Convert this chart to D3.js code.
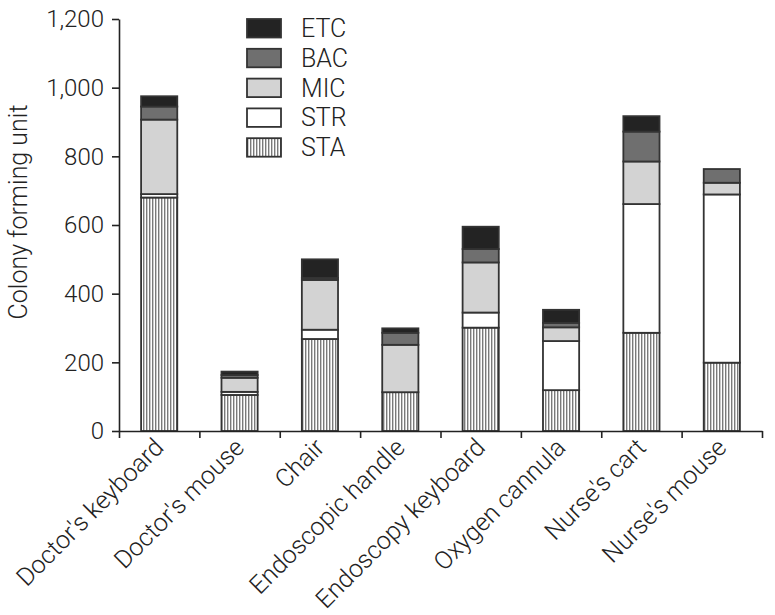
<!DOCTYPE html>
<html>
<head>
<meta charset="utf-8">
<script src="https://cdn.jsdelivr.net/npm/d3@7"></script>
<style>
  body { margin: 0; background: #fff; }
  text { font-family: Roboto, "Liberation Sans", sans-serif; font-weight: 300; fill: #222; }
  .axis path, .axis line { stroke: #222; stroke-width: 1.6; }
</style>
</head>
<body>
<script>
// categories and series
var places = ["Doctor's keyboard", "Doctor's mouse", "Chair", "Endoscopic handle",
              "Endoscopy keyboard", "Oxygen cannula", "Nurse's cart", "Nurse's mouse"];
var STA = [680, 105, 268, 113, 301, 119, 286, 199];
var STR = [10, 9, 27, 0, 44, 143, 375, 490];
var MIC = [217, 41, 145, 138, 146, 40, 124, 34];
var BAC = [38, 8, 6, 35, 39, 13, 87, 40];
var ETC = [30, 10, 54, 13, 65, 38, 45, 0];
var seriesNames = ["STA", "STR", "MIC", "BAC", "ETC"];
var yTicks = [0, 200, 400, 600, 800, 1000, 1200];

var screen = {width: 775, height: 615};
var margins = {left: 119, right: 13, top: 19, bottom: 184};
var graph = {
    width: screen.width - margins.left - margins.right,
    height: screen.height - margins.top - margins.bottom
};

var rows = places.map(function(p, i) {
    return {place: p, STA: STA[i], STR: STR[i], MIC: MIC[i], BAC: BAC[i], ETC: ETC[i]};
});
var stacked = d3.stack().keys(seriesNames)(rows);

var fills = {STA: "url(#stripes)", STR: "#ffffff", MIC: "#d3d3d3", BAC: "#6f6f6f", ETC: "#232323"};

var svg = d3.select("body").append("svg")
    .attr("width", screen.width)
    .attr("height", screen.height);

var pat = svg.append("defs").append("pattern")
    .attr("id", "stripes")
    .attr("patternUnits", "userSpaceOnUse")
    .attr("width", 3).attr("height", 10);
pat.append("rect").attr("width", 3).attr("height", 10).attr("fill", "#fff");
pat.append("rect").attr("x", 0).attr("width", 1.4).attr("height", 10).attr("fill", "#7a7a7a");

var xScale = d3.scaleBand()
    .domain(places)
    .range([0, graph.width])
    .paddingInner(0.55)
    .paddingOuter(0.275);

var edgeScale = d3.scaleLinear().domain([0, places.length]).range([0, graph.width]);

var yScale = d3.scaleLinear()
    .domain([0, 1200])
    .range([graph.height, 0]);

var plot = svg.append("g")
    .attr("transform", "translate(" + margins.left + "," + margins.top + ")");

// bars
plot.selectAll(".layer")
    .data(stacked)
    .enter().append("g")
    .attr("class", "layer")
    .attr("fill", function(d) { return fills[d.key]; })
    .selectAll("rect")
    .data(function(d) { return d.filter(function(v) { return v[1] - v[0] > 0; }); })
    .enter().append("rect")
    .attr("x", function(d) { return xScale(d.data.place); })
    .attr("width", xScale.bandwidth())
    .attr("y", function(d) { return yScale(d[1]); })
    .attr("height", function(d) { return yScale(d[0]) - yScale(d[1]); })
    .attr("stroke", "#333")
    .attr("stroke-width", 1.8);

// axes
var yAxis = d3.axisLeft(yScale)
    .tickValues(yTicks)
    .tickSize(7)
    .tickSizeOuter(0)
    .tickPadding(8)
    .tickFormat(d3.format(","));
plot.append("g").attr("class", "axis").call(yAxis)
    .selectAll("text").style("font-size", "24px");

var xAxis = d3.axisBottom(edgeScale)
    .tickValues(d3.range(places.length + 1))
    .tickSize(7)
    .tickSizeOuter(0)
    .tickFormat("");
plot.append("g").attr("class", "axis")
    .attr("transform", "translate(0," + graph.height + ")")
    .call(xAxis);

// category labels, slanted
plot.append("g").selectAll("text")
    .data(places)
    .enter().append("text")
    .attr("transform", function(d) {
        return "translate(" + (xScale(d) + xScale.bandwidth() / 2 + 6) + "," + (graph.height + 18) + ") rotate(-45)";
    })
    .attr("text-anchor", "end")
    .style("font-size", "25px")
    .text(function(d) { return d; });

// y title
svg.append("text")
    .attr("transform", "translate(27," + 212 + ") rotate(-90)")
    .attr("text-anchor", "middle")
    .style("font-size", "25px")
    .text("Colony forming unit");

// legend, top to bottom ETC..STA
var legendOrder = seriesNames.slice().reverse();
var legend = svg.append("g").attr("transform", "translate(247,19)");
var item = legend.selectAll("g")
    .data(legendOrder)
    .enter().append("g")
    .attr("transform", function(d, i) { return "translate(0," + (i * 29.8) + ")"; });
item.append("rect")
    .attr("width", 34).attr("height", 18.5)
    .attr("fill", function(d) { return fills[d]; })
    .attr("stroke", "#333").attr("stroke-width", 1.8);
item.append("text")
    .attr("x", 54).attr("y", 18)
    .style("font-size", "25px")
    .text(function(d) { return d; });
</script>
</body>
</html>
